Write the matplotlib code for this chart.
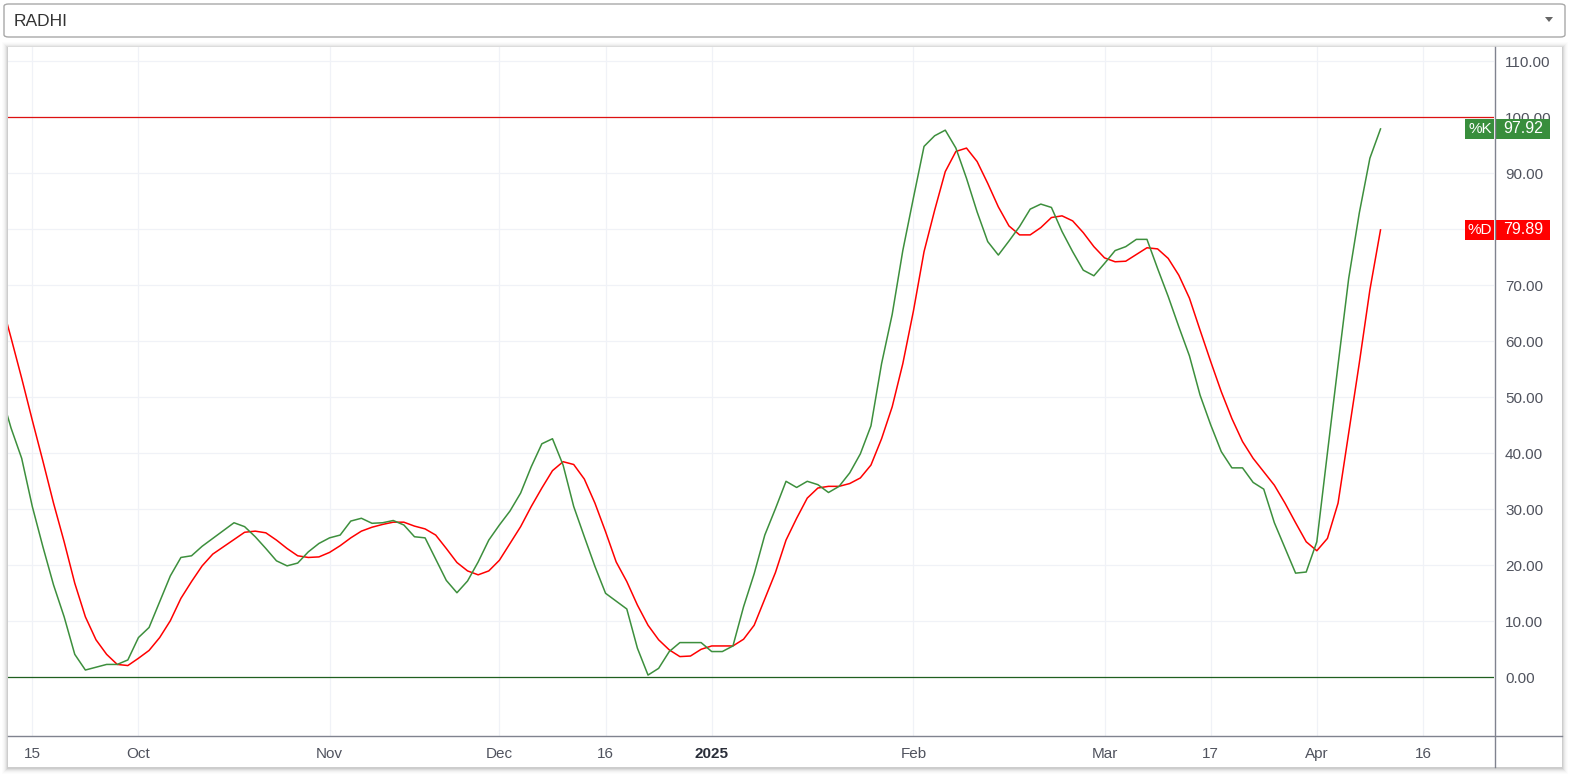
import matplotlib
matplotlib.use("Agg")
import matplotlib.pyplot as plt
from matplotlib.patches import FancyBboxPatch, Rectangle, Polygon
from matplotlib.transforms import blended_transform_factory

W, H = 1570, 775

symbol = "RADHI"

# stochastic values, one per trading session (first one sits 3 sessions before Sep 15)
first_index = -3
k_values = [
    51.0, 44.5, 39.1, 30.5, 23.3, 16.5, 10.8, 4.1, 1.3, 1.8,
    2.3, 2.3, 3.1, 7.1, 8.9, 13.5, 18.1, 21.4, 21.7, 23.4,
    24.8, 26.2, 27.6, 26.9, 25.1, 23.0, 20.8, 19.9, 20.4, 22.4,
    23.9, 24.9, 25.4, 27.9, 28.4, 27.5, 27.6, 28.0, 27.2, 25.1,
    24.9, 21.1, 17.3, 15.1, 17.2, 20.6, 24.5, 27.2, 29.7, 32.9,
    37.6, 41.7, 42.6, 37.9, 30.5, 25.1, 19.8, 15.0, 13.6, 12.2,
    5.2, 0.4, 1.6, 4.6, 6.2, 6.2, 6.2, 4.6, 4.6, 5.6,
    12.6, 18.5, 25.4, 30.1, 35.0, 33.9, 35.0, 34.4, 33.0, 34.1,
    36.5, 39.9, 44.9, 56.0, 64.8, 76.2, 85.6, 94.8, 96.7, 97.7,
    94.5, 89.1, 83.1, 77.8, 75.4, 77.9, 80.5, 83.6, 84.5, 83.9,
    79.6, 76.0, 72.7, 71.7, 73.9, 76.2, 76.9, 78.2, 78.2, 73.0,
    68.0, 62.6, 57.4, 50.4, 45.1, 40.3, 37.4, 37.4, 34.8, 33.6,
    27.6, 23.1, 18.6, 18.8, 24.2, 40.1, 55.8, 71.2, 82.9, 92.7,
    97.92,
]
d_values = [
    67.6, 60.6, 53.4, 45.9, 38.6, 31.1, 24.2, 16.8, 10.8, 6.7,
    4.1, 2.3, 2.1, 3.4, 4.8, 7.1, 10.1, 14.1, 17.1, 19.9,
    22.0, 23.3, 24.6, 25.9, 26.1, 25.8, 24.5, 23.0, 21.7, 21.4,
    21.5, 22.3, 23.5, 24.9, 26.1, 26.8, 27.3, 27.7, 27.7, 27.0,
    26.5, 25.4, 23.0, 20.5, 19.0, 18.3, 19.0, 20.9, 23.9, 26.9,
    30.5, 33.8, 36.9, 38.5, 38.0, 35.4, 31.1, 26.0, 20.6, 17.1,
    12.9, 9.3, 6.7, 4.9, 3.7, 3.8, 5.0, 5.6, 5.6, 5.6,
    6.8, 9.3, 14.0, 18.7, 24.5, 28.4, 32.0, 33.8, 34.1, 34.1,
    34.6, 35.6, 37.9, 42.6, 48.3, 56.0, 65.4, 76.0, 83.4, 90.3,
    93.9, 94.5, 92.1, 88.2, 84.0, 80.6, 79.0, 79.0, 80.3, 82.1,
    82.4, 81.5, 79.4, 76.9, 74.9, 74.2, 74.3, 75.5, 76.7, 76.5,
    74.8, 71.8, 67.7, 62.0, 56.4, 51.0, 46.2, 42.1, 39.1, 36.7,
    34.3, 31.1, 27.6, 24.2, 22.6, 24.8, 31.1, 43.6, 56.1, 69.2,
    79.89,
]

tick_index = [0, 10, 28, 44, 54, 64, 83, 101, 111, 121, 131]
tick_labels = ["15", "Oct", "Nov", "Dec", "16", "2025", "Feb", "Mar", "17", "Apr", "16"]
y_ticks = list(range(0, 111, 10))
upper_level = 100
lower_level = 0

green = "#3d8f3d"
red = "#ff0000"
axis_gray = "#80838f"
text_gray = "#50535e"
grid_color = "#f0f2f7"
label_font = ["Liberation Sans", "DejaVu Sans"]


def fx(px):
    return px / W


def fy(py):
    return 1 - py / H


fig = plt.figure(figsize=(W / 100, H / 100), dpi=100)
fig.patch.set_facecolor("white")

# symbol dropdown
fig.patches.append(FancyBboxPatch(
    (fx(4), fy(37)), fx(1561), 33 / H,
    boxstyle="round,pad=0,rounding_size=0.003",
    transform=fig.transFigure, facecolor="white", edgecolor="#a8a8a8", lw=1.0))
fig.text(fx(14), fy(21), symbol, fontsize=12.5, color="#333333",
         family="Liberation Sans", va="center", ha="left")
fig.patches.append(Polygon(
    [(fx(1545), fy(17)), (fx(1553), fy(17)), (fx(1549), fy(22))],
    closed=True, transform=fig.transFigure, facecolor="#666666", edgecolor="none"))

# chart panel with a soft shadow (kept behind the axes)
for i, a in enumerate([0.06, 0.05, 0.035, 0.025, 0.015, 0.01]):
    g = i + 1
    fig.patches.append(Rectangle(
        (fx(8 - g), fy(767 + g + 1)), (1554 + 2 * g) / W, (720 + 2 * g) / H,
        transform=fig.transFigure, facecolor="black", alpha=a, edgecolor="none", zorder=-2))
fig.patches.append(Rectangle(
    (fx(8), fy(767)), 1554 / W, 720 / H,
    transform=fig.transFigure, facecolor="white", edgecolor="none", zorder=-1))

ax = fig.add_axes([fx(8), fy(736), (1494 - 8) / W, (736 - 47) / H])
ax.set_facecolor("white")

x = list(range(first_index, first_index + len(k_values)))
ax.plot(x, d_values, color=red, lw=1.1, zorder=3)
ax.plot(x, k_values, color=green, lw=1.1, zorder=4)
ax.axhline(upper_level, color="#dd1111", lw=0.9, zorder=2)
ax.axhline(lower_level, color="#1f5f1f", lw=0.9, zorder=2)

ax.set_xlim(-2.289, 137.69)
ax.set_ylim(-10.48, 112.55)

ax.set_yticks(y_ticks)
ax.set_yticklabels([f"{v:.2f}" for v in y_ticks])
ax.yaxis.tick_right()
ax.set_xticks(tick_index)
ax.set_xticklabels(tick_labels)
ax.tick_params(axis="both", length=0, colors=text_gray, labelsize=11)
ax.tick_params(axis="y", pad=8)
ax.tick_params(axis="x", pad=8)
for lab in ax.get_xticklabels() + ax.get_yticklabels():
    lab.set_family(label_font)
for lab in ax.get_xticklabels():
    if lab.get_text() == "2025":
        lab.set_fontweight("bold")
        lab.set_color("#2a2e39")
ax.grid(True, color=grid_color, lw=0.9)
ax.set_axisbelow(True)
for s in ax.spines.values():
    s.set_visible(False)

# axis borders (price axis line runs through the time axis strip)
fig.add_artist(plt.Line2D([fx(8), fx(1562)], [fy(736), fy(736)],
                          transform=fig.transFigure, color=axis_gray, lw=1.0))
fig.add_artist(plt.Line2D([fx(1495), fx(1495)], [fy(47), fy(767)],
                          transform=fig.transFigure, color=axis_gray, lw=1.0))

# last value labels on the price axis
tr = blended_transform_factory(fig.transFigure, ax.transData)
box_h = 20 / 5.6
for name, vals, col in [("%K", k_values, "#388e3c"), ("%D", d_values, red)]:
    last = vals[-1]
    ax.add_patch(Rectangle((fx(1465), last - box_h / 2), fx(29), box_h, transform=tr,
                           facecolor=col, edgecolor="none", clip_on=False, zorder=6))
    ax.add_patch(Rectangle((fx(1496), last - box_h / 2), fx(54), box_h, transform=tr,
                           facecolor=col, edgecolor="none", clip_on=False, zorder=6))
    ax.text(fx(1480), last, name, transform=tr, color="white", fontsize=11,
            family=label_font, ha="center", va="center", zorder=7, clip_on=False)
    ax.text(fx(1523), last, f"{last:.2f}", transform=tr, color="white", fontsize=11.5,
            family=label_font, ha="center", va="center", zorder=7, clip_on=False)

fig.savefig("out.png", dpi=100, facecolor="white")
